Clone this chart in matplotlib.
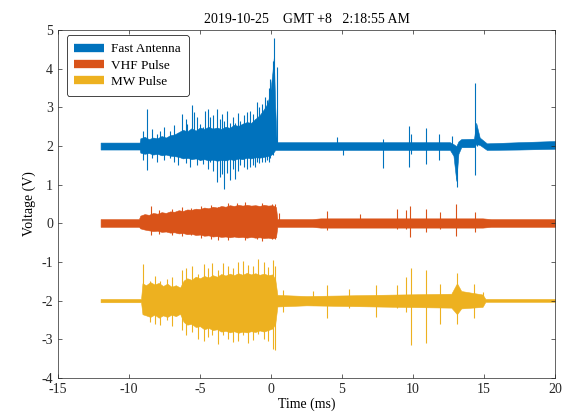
import matplotlib.pyplot as plt
from matplotlib.lines import Line2D

plt.rcParams['font.family'] = ['Liberation Serif', 'DejaVu Serif']
plt.rcParams['axes.unicode_minus'] = False

# envelope of each trace: (time ms, upper V, lower V)
fa_env = [(-12.0, 2.09, 1.91), (-9.25, 2.09, 1.91),
          (-9.2, 2.20, 1.83), (-8.9, 2.24, 1.80), (-8.6, 2.18, 1.82), (-8.3, 2.22, 1.78), (-8.0, 2.20, 1.80),
          (-7.7, 2.26, 1.76), (-7.4, 2.22, 1.78), (-7.1, 2.28, 1.75), (-6.8, 2.30, 1.74), (-6.5, 2.36, 1.72),
          (-6.2, 2.42, 1.68), (-5.9, 2.38, 1.70), (-5.6, 2.46, 1.66), (-5.3, 2.40, 1.68), (-5.0, 2.48, 1.64),
          (-4.7, 2.44, 1.66), (-4.4, 2.50, 1.63), (-4.1, 2.45, 1.65), (-3.8, 2.48, 1.62), (-3.5, 2.44, 1.64),
          (-3.2, 2.50, 1.63), (-2.9, 2.47, 1.66), (-2.6, 2.55, 1.64), (-2.3, 2.52, 1.68), (-2.0, 2.58, 1.66),
          (-1.7, 2.62, 1.70), (-1.4, 2.60, 1.68), (-1.1, 2.70, 1.71), (-0.8, 2.80, 1.70), (-0.5, 2.95, 1.72),
          (-0.25, 3.10, 1.74), (-0.05, 3.40, 1.76), (0.1, 3.90, 1.80), (0.2, 4.30, 1.85), (0.3, 3.00, 1.90),
          (0.4, 2.10, 1.90), (12.6, 2.10, 1.90), (12.85, 2.05, 1.75), (13.05, 2.00, 1.10), (13.2, 2.12, 1.80),
          (13.4, 2.18, 1.97), (14.3, 2.19, 1.97), (14.45, 2.60, 2.05), (14.7, 2.22, 2.03), (15.2, 2.07, 1.90),
          (17.5, 2.10, 1.91), (20.0, 2.13, 1.93)]

vhf_env = [(-12.0, 0.11, -0.09), (-9.3, 0.11, -0.09),
           (-9.2, 0.20, -0.13), (-8.9, 0.24, -0.16), (-8.6, 0.22, -0.18), (-8.3, 0.27, -0.20), (-8.0, 0.25, -0.19),
           (-7.7, 0.29, -0.22), (-7.4, 0.27, -0.21), (-7.1, 0.31, -0.24), (-6.8, 0.30, -0.23), (-6.5, 0.34, -0.26),
           (-6.2, 0.32, -0.25), (-5.9, 0.36, -0.28), (-5.6, 0.35, -0.27), (-5.3, 0.38, -0.30), (-5.0, 0.37, -0.29),
           (-4.7, 0.41, -0.32), (-4.4, 0.39, -0.31), (-4.1, 0.43, -0.34), (-3.8, 0.41, -0.33), (-3.5, 0.45, -0.35),
           (-3.2, 0.43, -0.34), (-2.9, 0.47, -0.36), (-2.6, 0.45, -0.34), (-2.3, 0.48, -0.36), (-2.0, 0.46, -0.35),
           (-1.7, 0.48, -0.37), (-1.4, 0.46, -0.35), (-1.1, 0.47, -0.37), (-0.8, 0.45, -0.36), (-0.5, 0.48, -0.38),
           (-0.2, 0.46, -0.37), (0.1, 0.47, -0.39), (0.35, 0.42, -0.36), (0.45, 0.11, -0.09),
           (2.9, 0.11, -0.09), (3.5, 0.13, -0.11), (14.9, 0.13, -0.11), (15.5, 0.11, -0.09), (20.0, 0.11, -0.09)]

mw_env = [(-12.0, -1.955, -2.04), (-9.15, -1.955, -2.04),
          (-9.05, -1.55, -2.35), (-8.8, -1.60, -2.38), (-8.5, -1.52, -2.42), (-8.2, -1.58, -2.36), (-7.9, -1.54, -2.44),
          (-7.6, -1.62, -2.38), (-7.3, -1.56, -2.42), (-7.0, -1.64, -2.36), (-6.7, -1.60, -2.40), (-6.4, -1.66, -2.34),
          (-6.15, -1.48, -2.55), (-5.9, -1.42, -2.62), (-5.6, -1.46, -2.60), (-5.3, -1.38, -2.68), (-5.0, -1.42, -2.66),
          (-4.7, -1.36, -2.74), (-4.4, -1.40, -2.70), (-4.1, -1.34, -2.76), (-3.8, -1.38, -2.74), (-3.5, -1.31, -2.80),
          (-3.2, -1.35, -2.78), (-2.9, -1.30, -2.82), (-2.6, -1.34, -2.79), (-2.3, -1.29, -2.83), (-2.0, -1.33, -2.80),
          (-1.7, -1.28, -2.82), (-1.4, -1.32, -2.79), (-1.1, -1.29, -2.81), (-0.8, -1.33, -2.77), (-0.5, -1.30, -2.80),
          (-0.2, -1.34, -2.76), (0.1, -1.32, -2.72), (0.3, -1.45, -2.60), (0.45, -1.85, -2.15),
          (2.5, -1.88, -2.12), (9.0, -1.84, -2.16), (12.7, -1.82, -2.18), (13.1, -1.55, -2.35), (13.4, -1.75, -2.20),
          (14.9, -1.84, -2.16), (15.1, -1.955, -2.03), (20.0, -1.955, -2.03)]

# individual spikes: (time ms, top V, bottom V)
fa_spikes = [(-9.04, 2.40, 1.63), (-8.71, 2.96, 1.39), (-8.40, 2.45, 1.70), (-8.05, 2.30, 1.58), (-7.82, 2.40, 1.80),
             (-7.55, 2.50, 1.65), (-7.11, 2.40, 1.70), (-6.80, 2.55, 1.60), (-6.53, 2.35, 1.50), (-6.29, 2.83, 1.80),
             (-6.00, 2.70, 1.55), (-5.94, 2.58, 1.70), (-5.70, 2.40, 1.45), (-5.58, 3.05, 1.75), (-5.42, 2.88, 1.70),
             (-5.20, 2.75, 1.50), (-5.00, 2.58, 1.65), (-4.77, 2.50, 1.54), (-4.65, 2.90, 1.70), (-4.45, 2.95, 1.40),
             (-4.30, 2.75, 1.60), (-4.05, 2.80, 1.35), (-3.83, 2.96, 1.07), (-3.60, 2.70, 1.20), (-3.47, 2.83, 1.28),
             (-3.29, 2.66, 0.90), (-3.10, 2.90, 1.30), (-2.89, 2.60, 1.11), (-2.65, 2.75, 1.40), (-2.54, 2.60, 1.15),
             (-2.35, 2.85, 1.35), (-2.18, 2.66, 1.50), (-1.90, 2.80, 1.45), (-1.71, 2.88, 1.41), (-1.45, 2.90, 1.45),
             (-1.25, 2.83, 1.50), (-1.13, 2.70, 1.45), (-1.00, 3.13, 1.60), (-0.85, 3.00, 1.55), (-0.65, 3.09, 1.58),
             (-0.42, 3.26, 1.60), (-0.30, 3.18, 1.65), (-0.15, 3.50, 1.60), (-0.07, 3.74, 1.70), (0.12, 4.20, 1.76),
             (0.20, 4.80, 1.90), (0.40, 4.04, 1.95), (4.63, 2.23, 1.95), (5.09, 2.05, 1.76), (7.91, 2.19, 1.44),
             (9.74, 2.53, 1.47), (9.85, 2.30, 1.80), (10.92, 2.46, 1.54), (11.85, 2.32, 1.65), (12.75, 2.25, 1.85),
             (13.08, 2.00, 0.94), (14.37, 3.63, 1.24), (14.49, 2.40, 2.00)]

vhf_spikes = [(-8.45, 0.44, -0.29), (-7.90, 0.34, -0.27), (-7.00, 0.38, -0.30), (-6.30, 0.42, -0.32),
              (-5.60, 0.40, -0.30), (-4.90, 0.45, -0.38), (-4.20, 0.48, -0.40), (-3.71, 0.42, -0.42),
              (-3.00, 0.52, -0.42), (-2.42, 0.53, -0.30), (-1.80, 0.55, -0.44), (-1.00, 0.45, -0.41),
              (-0.60, 0.52, -0.45), (0.05, 0.49, -0.40), (0.30, 0.51, -0.40), (0.60, 0.28, -0.05),
              (3.92, 0.32, -0.18), (6.27, 0.23, -0.10), (8.85, 0.38, -0.15), (9.51, 0.35, -0.15),
              (9.79, 0.45, -0.34), (10.92, 0.38, -0.22), (11.90, 0.29, -0.15), (13.03, 0.49, -0.33),
              (14.37, 0.29, -0.22)]

mw_spikes = [(-9.00, -1.04, -2.33), (-8.52, -1.50, -2.55), (-8.20, -1.35, -2.60), (-7.82, -1.50, -2.64),
             (-7.30, -1.45, -2.50), (-7.00, -1.40, -2.65), (-6.29, -1.21, -2.76), (-6.00, -1.15, -2.90),
             (-5.58, -1.09, -2.80), (-5.12, -1.30, -2.98), (-4.70, -1.05, -3.05), (-4.40, -1.15, -2.95),
             (-4.18, -1.03, -2.90), (-3.71, -1.20, -3.11), (-3.36, -1.03, -2.90), (-3.00, -1.10, -3.00),
             (-2.65, -1.15, -3.07), (-2.30, -1.00, -3.05), (-1.99, -0.98, -2.90), (-1.60, -1.08, -3.10),
             (-1.25, -1.10, -3.02), (-0.89, -0.91, -2.85), (-0.50, -1.00, -3.00), (-0.20, -1.12, -3.05),
             (0.16, -0.96, -3.24), (0.30, -1.10, -3.28), (0.87, -1.73, -2.30), (2.93, -1.75, -2.10),
             (3.92, -1.60, -2.46), (5.50, -1.70, -2.20), (7.39, -1.60, -2.42), (8.85, -1.60, -2.20),
             (9.51, -1.39, -2.30), (9.86, -1.15, -3.15), (10.92, -1.21, -3.09), (11.90, -1.56, -2.59),
             (13.08, -1.28, -2.60), (14.30, -1.56, -2.46), (14.95, -1.78, -2.10)]

labels = ['Fast Antenna', 'VHF Pulse', 'MW Pulse']
colors = ['#0072BD', '#D95319', '#EDB120']

fig = plt.figure(figsize=(5.64, 4.12), dpi=100)
ax = fig.add_axes([0.1028, 0.0825, 0.8812, 0.8445])

for env, sp, c in zip([fa_env, vhf_env, mw_env], [fa_spikes, vhf_spikes, mw_spikes], colors):
    t, hi, lo = zip(*env)
    ax.fill_between(t, lo, hi, color=c, lw=0.4, edgecolor=c)
    st, stop, sbot = zip(*sp)
    ax.vlines(st, sbot, stop, color=c, lw=0.8)

ax.set_xlim(-15, 20)
ax.set_ylim(-4, 5)
ax.set_xticks(range(-15, 21, 5))
ax.set_yticks(range(-4, 6))
ax.tick_params(direction='in', top=True, right=True, labelsize=10, length=3, width=0.5, colors='#262626')
for s in ax.spines.values():
    s.set_color('#262626')
    s.set_linewidth(0.5)

ax.set_xlabel('Time (ms)', fontsize=10, labelpad=1)
ax.set_ylabel('Voltage (V)', fontsize=10)
ax.set_title('2019-10-25    GMT +8   2:18:55 AM', fontsize=10, pad=5)

handles = [Line2D([], [], color=c, lw=6, solid_capstyle='butt') for c in colors]
leg = ax.legend(handles, labels, loc='upper left', fontsize=9.5, fancybox=True, framealpha=1,
                edgecolor='#262626', handlelength=2.2, borderpad=0.6, labelspacing=0.3,
                handletextpad=0.6, bbox_to_anchor=(0.004, 1.004))
leg.get_frame().set_linewidth(0.6)

fig.savefig('out.png', dpi=100)
